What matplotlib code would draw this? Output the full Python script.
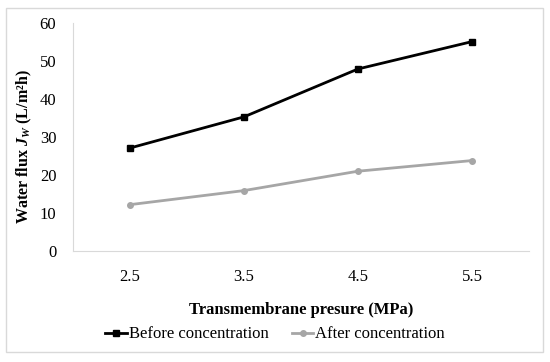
import matplotlib
matplotlib.use("Agg")
import matplotlib.pyplot as plt
from matplotlib.patches import Rectangle

# datos
presion = ["2.5", "3.5", "4.5", "5.5"]
antes = [27.1, 35.3, 47.9, 55.1]
despues = [12.2, 15.9, 21.0, 23.8]

plt.rcParams["font.family"] = "Liberation Serif"
plt.rcParams["mathtext.fontset"] = "custom"
plt.rcParams["mathtext.it"] = "Liberation Serif:bold:italic"
plt.rcParams["mathtext.rm"] = "Liberation Serif:bold"

fig = plt.figure(figsize=(5.5, 3.62), dpi=100)
ax = fig.add_axes([0.1327, 0.3066, 0.8291, 0.6299])

# borde exterior
fig.patches.append(Rectangle((0.011, 0.028), 0.976, 0.95, transform=fig.transFigure,
                             fill=False, edgecolor="#d9d9d9", linewidth=1))

x = range(len(presion))
ax.plot(x, antes, color="black", linewidth=2, marker="s", markersize=4,
        label="Before concentration")
ax.plot(x, despues, color="#a6a6a6", linewidth=2, marker="o", markersize=4,
        label="After concentration")

ax.set_xlim(-0.5, len(presion) - 0.5)
ax.set_ylim(0, 60)
ax.set_yticks(range(0, 61, 10))
ax.set_xticks(list(x))
ax.set_xticklabels(presion)
ax.tick_params(length=0, labelsize=12)
ax.tick_params(axis="x", pad=13)
ax.tick_params(axis="y", pad=12)

for s in ["top", "right"]:
    ax.spines[s].set_visible(False)
ax.spines["left"].set_color("#d9d9d9")
ax.spines["bottom"].set_color("#d9d9d9")

ax.set_xlabel("Transmembrane presure (MPa)", fontsize=12, fontweight="bold", labelpad=12)
ax.set_ylabel("Water flux $J_W$ (L/m²h)", fontsize=11.5, fontweight="bold")
ax.yaxis.set_label_coords(-0.085, 0.456)

ax.legend(loc="upper center", bbox_to_anchor=(0.443, -0.265), ncol=2, frameon=False,
          fontsize=12, handlelength=1.3, handletextpad=0.1, columnspacing=1.4)

fig.savefig("out.png", dpi=100)
